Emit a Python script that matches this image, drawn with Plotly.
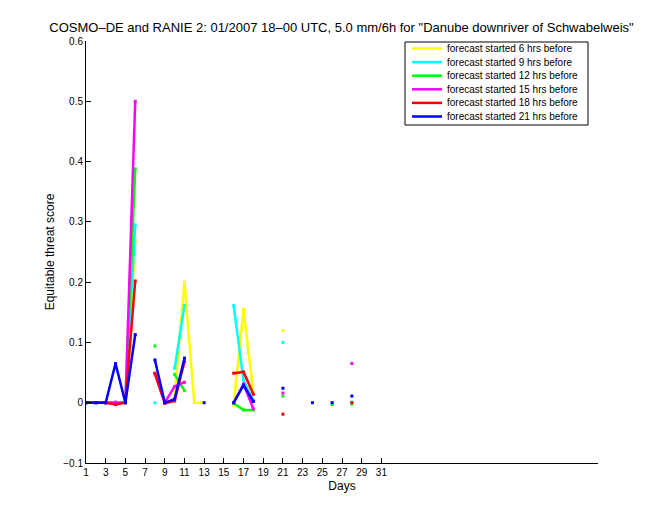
import plotly.graph_objects as go

nan = None
days = list(range(1, 32))

# values per day (1..31), None = missing
yellow = [0, 0, 0, 0, 0, 0.27, nan, nan, nan, 0.01, 0.2, 0, 0, nan, nan, -0.004, 0.155, 0.016,
          nan, nan, 0.12, nan, nan, nan, nan, nan, nan, nan, nan, nan, nan]
cyan = [0, 0, 0, 0, 0, 0.295, nan, 0, nan, 0.057, 0.161, nan, nan, nan, nan, 0.161, 0.037, 0.003,
        nan, nan, 0.1, nan, nan, nan, nan, 0, nan, 0.001, nan, nan, nan]
green = [0, 0, 0, 0, 0, 0.388, nan, 0.094, nan, 0.047, 0.02, nan, nan, nan, nan, -0.001, -0.012, -0.012,
         nan, nan, 0.011, nan, nan, nan, nan, -0.003, nan, -0.002, nan, nan, nan]
magenta = [0, 0, 0, 0.001, 0, 0.5, nan, 0.048, 0, 0.027, 0.034, nan, nan, nan, nan, 0, 0.031, -0.01,
           nan, nan, 0.016, nan, nan, nan, nan, nan, nan, 0.065, nan, nan, nan]
red = [0, 0, 0, -0.003, 0, 0.202, nan, 0.049, -0.001, 0.003, 0.068, nan, nan, nan, nan, 0.049, 0.051, 0.014,
       nan, nan, -0.019, nan, nan, nan, nan, nan, nan, 0.0, nan, nan, nan]
blue = [0, 0, 0, 0.065, 0, 0.113, nan, 0.071, 0, 0.006, 0.074, nan, 0, nan, nan, 0, 0.029, 0.002,
        nan, nan, 0.024, nan, nan, 0, nan, 0, nan, 0.011, nan, nan, nan]

names = ["forecast started 6 hrs before", "forecast started 9 hrs before",
         "forecast started 12 hrs before", "forecast started 15 hrs before",
         "forecast started 18 hrs before", "forecast started 21 hrs before"]
colors = ["#ffff00", "#00ffff", "#00ff00", "#ff00ff", "#ff0000", "#0000ff"]
values = [yellow, cyan, green, magenta, red, blue]

xticks = list(range(1, 32, 2))
yticks = [-0.1, 0, 0.1, 0.2, 0.3, 0.4, 0.5, 0.6]
ytick_labels = ["\u22120.1", "0", "0.1", "0.2", "0.3", "0.4", "0.5", "0.6"]

W, H = 660, 520
L, R, T, B = 86, 62, 41, 57
pw, ph = W - L - R, H - T - B

def px(x):
    return (x - L) / pw

def py(y):
    return (H - B - y) / ph

fig = go.Figure()
for name, vals, col in zip(names, values, colors):
    fig.add_trace(go.Scatter(
        x=days, y=vals, name=name, mode="lines+markers",
        line=dict(color=col, width=2.5),
        marker=dict(color=col, size=3, symbol="square"),
        connectgaps=False, showlegend=False,
    ))

font = "Liberation Sans, Arial, Helvetica, sans-serif"

# manual legend (MATLAB style)
shapes = [dict(type="rect", xref="paper", yref="paper",
               x0=px(405), x1=px(588), y0=py(125), y1=py(42),
               line=dict(color="black", width=1), fillcolor="white", layer="above")]
annotations = []
row0, dy = 48.5, 13.6
for i, (name, col) in enumerate(zip(names, colors)):
    yy = row0 + i * dy
    shapes.append(dict(type="line", xref="paper", yref="paper",
                       x0=px(412), x1=px(442), y0=py(yy), y1=py(yy),
                       line=dict(color=col, width=2.5), layer="above"))
    annotations.append(dict(xref="paper", yref="paper", x=px(445), y=py(yy),
                            xanchor="left", yanchor="middle", showarrow=False,
                            text=name, font=dict(size=10, family=font, color="black")))

fig.update_layout(
    width=W, height=H,
    paper_bgcolor="white", plot_bgcolor="white",
    margin=dict(l=L, r=R, t=T, b=B, autoexpand=False),
    font=dict(family=font, size=10, color="black"),
    title=dict(text='COSMO\u2013DE and RANIE 2: 01/2007 18\u201300 UTC, 5.0 mm/6h for "Danube downriver of Schwabelweis"',
               x=341.5 / W, xanchor="center", y=1 - 27 / H, yanchor="middle",
               font=dict(size=13, family=font)),
    showlegend=False,
    hovermode=False,
    shapes=shapes, annotations=annotations,
    xaxis=dict(range=[1, 53], tickmode="array", tickvals=xticks,
               ticks="inside", ticklen=5, tickcolor="black",
               showline=True, linecolor="black", linewidth=1, mirror=False,
               showgrid=False, zeroline=False, automargin=False,
               title=dict(text="Days", font=dict(size=12), standoff=4)),
    yaxis=dict(range=[-0.1, 0.6], tickmode="array", tickvals=yticks, ticktext=ytick_labels,
               ticks="inside", ticklen=5, tickcolor="black",
               showline=True, linecolor="black", linewidth=1, mirror=False,
               showgrid=False, zeroline=False, automargin=False,
               title=dict(text="Equitable threat score", font=dict(size=12), standoff=6)),
)

fig.write_html("out.html", config={"displayModeBar": False},
               post_script="document.body.style.margin='0';")
